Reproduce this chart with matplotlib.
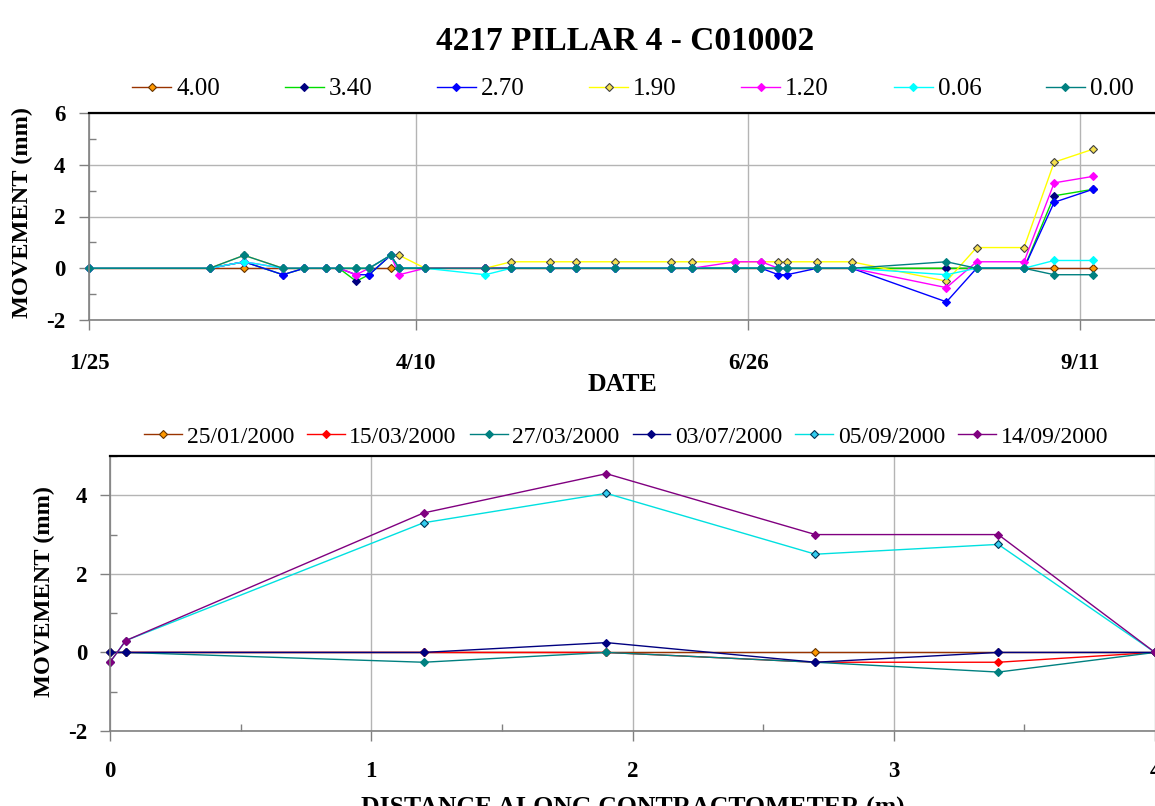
import numpy as np
import matplotlib
matplotlib.use('Agg')
import matplotlib.pyplot as plt
import pandas as pd
from matplotlib.ticker import MultipleLocator

plt.rcParams['font.family'] = ['Liberation Serif', 'DejaVu Serif']
plt.rcParams['axes.unicode_minus'] = False

# ---- top panel: anchor movement vs date ----
dates = pd.to_datetime([
    '2000-01-25', '2000-02-22', '2000-03-01', '2000-03-10', '2000-03-15',
    '2000-03-20', '2000-03-23', '2000-03-27', '2000-03-30', '2000-04-04',
    '2000-04-06', '2000-04-12', '2000-04-26', '2000-05-02', '2000-05-11',
    '2000-05-17', '2000-05-26', '2000-06-08', '2000-06-13', '2000-06-23',
    '2000-06-29', '2000-07-03', '2000-07-05', '2000-07-12', '2000-07-20',
    '2000-08-11', '2000-08-18', '2000-08-29', '2000-09-05', '2000-09-14',
])
anchor_labels = ['4.00', '3.40', '2.70', '1.90', '1.20', '0.06', '0.00']
mov_400 = [0, 0, 0, 0, 0, 0, 0, 0, 0, 0, 0, 0, 0, 0, 0,
           0, 0, 0, 0, 0, 0, 0, 0, 0, 0, 0, 0, 0, 0, 0]
mov_340 = [0, 0, 0.25, -0.25, 0, 0, 0, -0.5, -0.25, 0.5, 0, 0, 0, 0, 0,
           0, 0, 0, 0, 0, 0, 0, 0, 0, 0, 0, 0, 0, 2.8, 3.05]
mov_270 = [0, 0, 0.25, -0.25, 0, 0, 0, -0.25, -0.25, 0.5, 0, 0, 0, 0, 0,
           0, 0, 0, 0, 0, 0, -0.25, -0.25, 0, 0, -1.3, 0, 0, 2.55, 3.05]
mov_190 = [0, 0, 0.5, 0, 0, 0, 0, 0, 0, 0.5, 0.5, 0, 0, 0.25, 0.25,
           0.25, 0.25, 0.25, 0.25, 0.25, 0.25, 0.25, 0.25, 0.25, 0.25, -0.5, 0.8, 0.8, 4.1, 4.6]
mov_120 = [0, 0, 0.25, 0, 0, 0, 0, -0.25, 0, 0.5, -0.25, 0, 0, 0, 0,
           0, 0, 0, 0, 0.25, 0.25, 0, 0, 0, 0, -0.75, 0.25, 0.25, 3.3, 3.55]
mov_006 = [0, 0, 0.25, 0, 0, 0, 0, 0, 0, 0.5, 0, 0, -0.25, 0, 0,
           0, 0, 0, 0, 0, 0, 0, 0, 0, 0, -0.25, 0, 0, 0.3, 0.3]
mov_000 = [0, 0, 0.5, 0, 0, 0, 0, 0, 0, 0.5, 0, 0, 0, 0, 0,
           0, 0, 0, 0, 0, 0, 0, 0, 0, 0, 0.25, 0, 0, -0.25, -0.25]
date_ticks = pd.to_datetime(['2000-01-25', '2000-04-10', '2000-06-26', '2000-09-11'])
date_tick_labels = ['1/25', '4/10', '6/26', '9/11']

# ---- bottom panel: profile along contractometer ----
distance = [0, 0.06, 1.2, 1.9, 2.7, 3.4, 4.0]
read_labels = ['25/01/2000', '15/03/2000', '27/03/2000', '03/07/2000', '05/09/2000', '14/09/2000']
prof_2501 = [0, 0, 0, 0, 0, 0, 0]
prof_1503 = [0, 0, 0, 0, -0.25, -0.25, 0]
prof_2703 = [0, 0, -0.25, 0, -0.25, -0.5, 0]
prof_0307 = [0, 0, 0, 0.25, -0.25, 0, 0]
prof_0509 = [-0.25, 0.3, 3.3, 4.05, 2.5, 2.75, 0]
prof_1409 = [-0.25, 0.3, 3.55, 4.55, 3.0, 3.0, 0]

# (line colour, marker face, marker edge)
top_styles = [('#993300', '#FF9900', '#663300'),
              ('#00DD00', '#000080', '#000080'),
              ('#0000FF', '#0000FF', '#0000FF'),
              ('#FFFF00', '#F5E050', '#404040'),
              ('#FF00FF', '#FF00FF', '#FF00FF'),
              ('#00FFFF', '#00FFFF', '#00FFFF'),
              ('#008080', '#008080', '#008080')]
bot_styles = [('#993300', '#FF9900', '#663300'),
              ('#FF0000', '#FF0000', '#FF0000'),
              ('#008080', '#008080', '#008080'),
              ('#000080', '#000080', '#000080'),
              ('#00E0E0', '#33CCEE', '#003355'),
              ('#800080', '#800080', '#800080')]

GRID = '#B4B4B4'
AXC = '#808080'
TICK_SIZE = 16.5
XLAB_SIZE = 18.5
YLAB_SIZE = 17.5


def style_axes(ax):
    ax.spines['right'].set_visible(False)
    ax.spines['top'].set_color('black')
    ax.spines['top'].set_linewidth(1.6)
    for s in ('left', 'bottom'):
        ax.spines[s].set_color(AXC)
        ax.spines[s].set_linewidth(1.2)
    ax.tick_params(which='major', direction='out', length=7, width=1, color=AXC)
    ax.tick_params(which='minor', direction='in', length=5, width=1, color=AXC)
    ax.grid(True, which='major', color=GRID, lw=1)
    ax.set_axisbelow(True)
    for lab in ax.get_xticklabels() + ax.get_yticklabels():
        lab.set_fontsize(TICK_SIZE)
        lab.set_fontweight('bold')


fig = plt.figure(figsize=(11.55, 8.06), dpi=100)

# top
ax1 = fig.add_axes([89 / 1155, 486 / 806, 1 - 89 / 1155, 207 / 806])
top_series = [mov_400, mov_340, mov_270, mov_190, mov_120, mov_006, mov_000]
handles = []
for vals, lab, (lc, mf, me) in zip(top_series, anchor_labels, top_styles):
    h, = ax1.plot(dates, vals, color=lc, lw=1, marker='D', ms=4.2,
                  mfc=mf, mec=me, mew=0.8, label=lab, clip_on=False)
    handles.append(h)
ax1.set_ylim(-2, 6)
ax1.set_xlim(dates[0], dates[0] + pd.Timedelta(days=247.4))
ax1.set_yticks([-2, 0, 2, 4, 6])
ax1.yaxis.set_minor_locator(MultipleLocator(1))
ax1.set_xticks(date_ticks)
ax1.set_xticklabels(date_tick_labels)
ax1.tick_params(axis='x', which='major', pad=17)
ax1.tick_params(axis='y', which='major', pad=10)
style_axes(ax1)
ax1.set_xlabel('DATE', labelpad=-1, fontsize=XLAB_SIZE, fontweight='bold')
ax1.set_ylabel('MOVEMENT (mm)', fontsize=YLAB_SIZE, fontweight='bold')
ax1.yaxis.set_label_coords(-0.0525, 0.517)

fig.legend(handles, anchor_labels, ncol=7, loc='center',
           bbox_to_anchor=(0.548, 1 - 89 / 806), frameon=False, fontsize=18,
           handlelength=1.56, handletextpad=0.2, columnspacing=2.58,
           borderaxespad=0, borderpad=0)

# bottom
ax2 = fig.add_axes([110 / 1155, 75 / 806, 1 - 110 / 1155, 275 / 806])
bot_series = [prof_2501, prof_1503, prof_2703, prof_0307, prof_0509, prof_1409]
handles2 = []
for vals, lab, (lc, mf, me) in zip(bot_series, read_labels, bot_styles):
    h, = ax2.plot(distance, vals, color=lc, lw=1, marker='D', ms=4.2,
                  mfc=mf, mec=me, mew=0.8, label=lab, clip_on=False)
    handles2.append(h)
ax2.set_ylim(-2, 5)
ax2.set_xlim(0, 4)
ax2.set_yticks([-2, 0, 2, 4])
ax2.yaxis.set_minor_locator(MultipleLocator(1))
ax2.set_xticks([0, 1, 2, 3, 4])
ax2.xaxis.set_minor_locator(MultipleLocator(0.5))
ax2.tick_params(axis='x', which='major', pad=14.5)
ax2.tick_params(axis='y', which='major', pad=9.5)
style_axes(ax2)
ax2.set_xlabel('DISTANCE ALONG CONTRACTOMETER (m)', labelpad=11,
               fontsize=XLAB_SIZE, fontweight='bold')
ax2.set_ylabel('MOVEMENT (mm)', fontsize=YLAB_SIZE, fontweight='bold')
ax2.yaxis.set_label_coords(-0.0526, 0.507)

fig.legend(handles2, read_labels, ncol=6, loc='center',
           bbox_to_anchor=(0.542, 1 - 437 / 806), frameon=False, fontsize=17,
           handlelength=1.6, handletextpad=0.2, columnspacing=0.55,
           borderaxespad=0, borderpad=0)

fig.text(0.541, 1 - 42 / 806, '4217 PILLAR 4 - C010002', ha='center', va='center',
         fontsize=24, fontweight='bold')

fig.savefig('out.png', dpi=100)
